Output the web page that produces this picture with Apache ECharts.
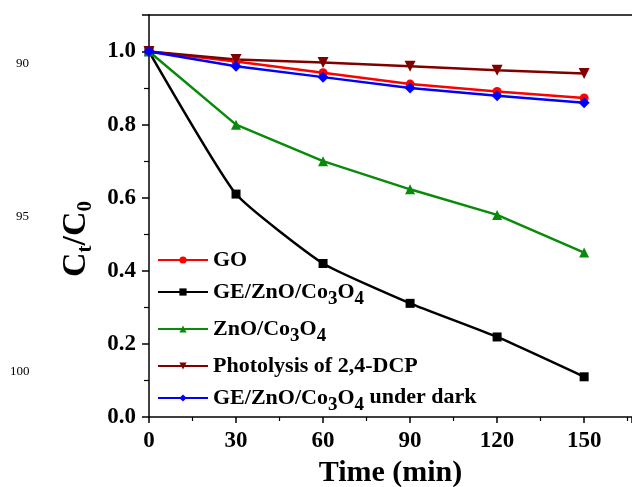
<!DOCTYPE html>
<html>
<head>
<meta charset="utf-8">
<script src="https://cdn.jsdelivr.net/npm/echarts@6/dist/echarts.min.js"></script>
<style>
  html, body { margin: 0; padding: 0; background: #fff; }
  #chart { width: 632px; height: 487px; }
</style>
</head>
<body>
<div id="chart"></div>
<script>
// 降解曲线 C_t/C_0 vs time
var times = [0, 30, 60, 90, 120, 150];
var seriesNames = ['GO', 'GE/ZnO/Co3O4', 'ZnO/Co3O4', 'Photolysis of 2,4-DCP', 'GE/ZnO/Co3O4 under dark'];
var goVals = [1.0, 0.973, 0.942, 0.911, 0.891, 0.873];
var geZnoVals = [1.0, 0.61, 0.42, 0.311, 0.219, 0.11];
var znoVals = [1.0, 0.80, 0.70, 0.623, 0.553, 0.45];
var photoVals = [1.0, 0.978, 0.97, 0.96, 0.949, 0.94];
var darkVals = [1.0, 0.96, 0.93, 0.90, 0.879, 0.86];
var lineNumbers = ['90', '95', '100'];

var serif = 'Liberation Serif';
var legendLabels = {
  'GO': 'GO',
  'GE/ZnO/Co3O4': 'GE/ZnO/Co{s|3}O{s|4}',
  'ZnO/Co3O4': 'ZnO/Co{s|3}O{s|4}',
  'Photolysis of 2,4-DCP': 'Photolysis of 2,4-DCP',
  'GE/ZnO/Co3O4 under dark': 'GE/ZnO/Co{s|3}O{s|4}{n| under dark}'
};

function pairs(vals) {
  return times.map(function (t, i) { return [t, vals[i]]; });
}

function makeSeries(name, vals, color, symbol, size, smooth) {
  return {
    name: name,
    type: 'line',
    data: pairs(vals),
    smooth: smooth || false,
    symbol: symbol,
    symbolSize: size,
    lineStyle: { color: color, width: 2.5 },
    itemStyle: { color: color }
  };
}

var chart = echarts.init(document.getElementById('chart'));
chart.setOption({
  animation: false,
  backgroundColor: '#fff',
  grid: { left: 149, top: 15, bottom: 70, right: 0, outerBoundsMode: 'none', containLabel: false },
  legend: {
    orient: 'vertical',
    left: 152,
    top: 243,
    itemWidth: 50,
    itemHeight: 9,
    itemGap: 8,
    data: seriesNames,
    formatter: function (n) { return legendLabels[n]; },
    textStyle: {
      fontFamily: serif, fontWeight: 'bold', fontSize: 22, color: '#000',
      lineHeight: 24, verticalAlign: 'top',
      rich: {
        s: { fontFamily: serif, fontWeight: 'bold', fontSize: 19, lineHeight: 19, padding: [10, 0, 0, 0], verticalAlign: 'top' },
        n: { fontFamily: serif, fontWeight: 'bold', fontSize: 22, lineHeight: 24, verticalAlign: 'top' }
      }
    }
  },
  xAxis: [{
    type: 'value',
    min: 0, max: 166.5, interval: 30,
    name: 'Time (min)',
    nameLocation: 'middle',
    nameGap: 36,
    nameTextStyle: { fontFamily: serif, fontWeight: 'bold', fontSize: 30, color: '#000' },
    axisLine: { lineStyle: { color: '#000', width: 1.5 } },
    axisTick: { inside: false, length: 6, lineStyle: { color: '#000', width: 1.5 } },
    minorTick: { show: true, splitNumber: 2, length: 4, lineStyle: { color: '#000', width: 1.2 } },
    splitLine: { show: false },
    axisLabel: {
      showMaxLabel: false, margin: 13,
      fontFamily: serif, fontWeight: 'bold', fontSize: 23, color: '#000'
    }
  }, {
    // top frame line only
    type: 'value',
    position: 'top',
    min: 0, max: 166.5,
    axisLine: { show: true, onZero: false, lineStyle: { color: '#000', width: 1.5 } },
    axisTick: { show: false },
    axisLabel: { show: false },
    splitLine: { show: false }
  }],
  yAxis: {
    type: 'value',
    min: 0, max: 1.1, interval: 0.2,
    name: 'C{s|t}/C{s|0}',
    nameLocation: 'middle',
    nameGap: 67,
    nameTextStyle: {
      fontFamily: serif, fontWeight: 'bold', fontSize: 34, color: '#000',
      lineHeight: 36, verticalAlign: 'top', padding: [0, 46, 0, 0],
      rich: {
        s: { fontFamily: serif, fontWeight: 'bold', fontSize: 21, lineHeight: 21, padding: [17, 0, 0, 0], verticalAlign: 'top' }
      }
    },
    axisLine: { show: true, lineStyle: { color: '#000', width: 1.5 } },
    axisTick: { inside: false, length: 7, lineStyle: { color: '#000', width: 1.5 } },
    minorTick: { show: true, splitNumber: 2, length: 5, lineStyle: { color: '#000', width: 1.2 } },
    splitLine: { show: false },
    axisLabel: {
      showMaxLabel: false, margin: 13,
      fontFamily: serif, fontWeight: 'bold', fontSize: 23, color: '#000',
      formatter: function (v) { return v.toFixed(1); }
    }
  },
  graphic: lineNumbers.map(function (t, i) {
    return {
      type: 'text',
      left: [16, 16, 10][i],
      top: [57, 210, 365][i],
      style: { text: t, font: '13px "Liberation Serif"', fill: '#000' }
    };
  }),
  series: [
    makeSeries(seriesNames[0], goVals, '#ff0000', 'circle', 9),
    makeSeries(seriesNames[1], geZnoVals, '#000000', 'rect', 9, 0.15),
    makeSeries(seriesNames[2], znoVals, '#0a8a0a', 'triangle', 10),
    makeSeries(seriesNames[3], photoVals, '#800000', 'path://M0,0 L10,0 L5,9 Z', 11),
    makeSeries(seriesNames[4], darkVals, '#0000ff', 'diamond', 11)
  ]
});
</script>
</body>
</html>
